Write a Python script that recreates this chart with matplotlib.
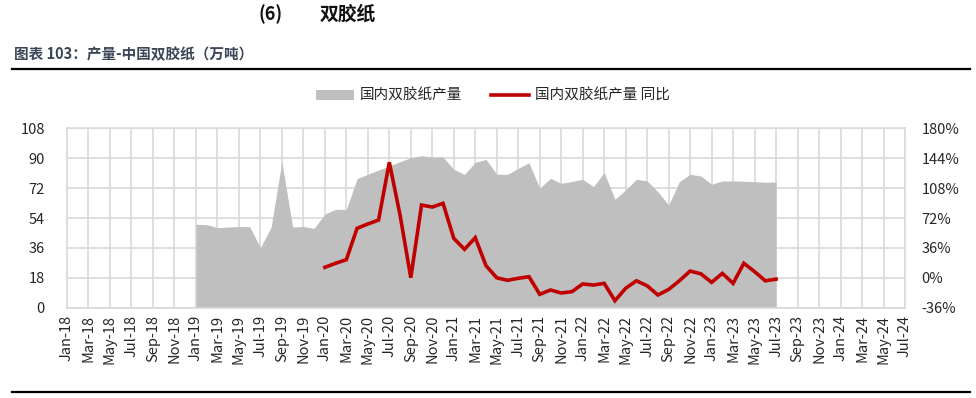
import matplotlib
matplotlib.use("Agg")
import matplotlib.pyplot as plt
from matplotlib.lines import Line2D
from matplotlib.patches import Patch
import pandas as pd

plt.rcParams['font.family'] = ['Noto Sans CJK SC', 'DejaVu Sans']

# month axis Jan-18 .. Jul-24
months = pd.date_range("2018-01-01", "2024-07-01", freq="MS")
tickLabels = [m.strftime("%b-%y") for m in months]

# 国内双胶纸产量 (万吨), Jan-19 .. Jul-23
outputStart = "2019-01-01"
outputValues = [
    50.2, 50.0, 48.2, 48.6, 48.8, 48.8, 36.1, 48.5, 87.9, 48.6, 48.8, 47.8,
    56.4, 59.2, 59.2, 77.7, 80.3, 82.9, 85.3, 87.9, 90.3, 91.5, 90.7, 90.7,
    83.3, 80.3, 87.5, 89.3, 80.3, 80.3, 83.9, 87.3, 71.9, 77.9, 74.9, 76.0,
    77.3, 72.9, 81.3, 65.3, 70.9, 77.3, 76.3, 69.8, 61.8, 75.9, 80.3, 79.3,
    74.3, 76.3, 76.3, 76.1, 75.9, 75.5, 75.7,
]

# 同比 (%), Jan-20 .. Jul-23
yoyStart = "2020-01-01"
yoyValues = [
    12.6, 17.5, 21.8, 59.6, 64.8, 69.5, 139.0, 75.6, 0.1, 87.6, 85.2, 89.7,
    47.5, 34.3, 48.3, 14.6, 0.0, -3.0, -0.6, 1.3, -19.9, -14.7, -18.3, -16.7,
    -7.4, -8.7, -6.7, -27.6, -12.6, -3.6, -9.6, -20.7, -14.0, -3.6, 8.1, 4.8,
    -5.5, 5.3, -6.7, 17.5, 7.4, -3.6, -1.6,
]

leftTicks = [0, 18, 36, 54, 72, 90, 108]
rightTicks = [-36, 0, 36, 72, 108, 144, 180]

AREA = "#BFBFBF"
RED = "#C00000"
GRID = "#D9D9D9"
TXT = "#262626"

startIdx = list(months).index(pd.Timestamp(outputStart))
xOut = list(range(startIdx, startIdx + len(outputValues)))
yoyIdx = list(months).index(pd.Timestamp(yoyStart))
xYoy = list(range(yoyIdx, yoyIdx + len(yoyValues)))

fig = plt.figure(figsize=(9.76, 3.98), dpi=100)
fig.set_facecolor("w")
ax = fig.add_axes([67 / 976, 90.3 / 398, 838 / 976, 179.4 / 398])

ax.fill_between(xOut, 0, outputValues, color=AREA, linewidth=0, zorder=2)
ax.set_xlim(0, len(months) - 1)
ax.set_ylim(0, 108)
ax.set_yticks(leftTicks)
ax.set_xticks(range(0, len(months), 2))
ax.set_xticklabels(tickLabels[::2], rotation=90)
ax.set_axisbelow(True)
ax.grid(True, color=GRID, linewidth=1.2, zorder=0)
ax.tick_params(axis='both', length=0, labelsize=10.5, colors=TXT)
ax.tick_params(axis='y', pad=16)
ax.tick_params(axis='x', pad=5)
for s in ax.spines.values():
    s.set_color(GRID)
    s.set_linewidth(1.2)

ax2 = ax.twinx()
ax2.plot(xYoy, yoyValues, color=RED, linewidth=2.6, solid_joinstyle='miter', zorder=3)
ax2.set_ylim(-36, 180)
ax2.set_yticks(rightTicks)
ax2.set_yticklabels([f"{t}%" for t in rightTicks])
ax2.tick_params(axis='y', length=0, labelsize=10.5, colors=TXT, pad=12)
for s in ax2.spines.values():
    s.set_visible(False)

handles = [Patch(facecolor=AREA, edgecolor='none'),
           Line2D([], [], color=RED, linewidth=2.6)]
fig.legend(handles, ["国内双胶纸产量", "国内双胶纸产量 同比"],
           loc='center', bbox_to_anchor=(0.505, 1 - 96 / 398), ncol=2,
           frameon=False, fontsize=10.5, handlelength=2.6, handleheight=0.7,
           handletextpad=0.4, columnspacing=2.0, labelcolor=TXT)

fig.text(258 / 976, 1 - 14 / 398, "(6)", fontsize=13, fontweight='bold',
         va='center', ha='left', color='#111111')
fig.text(320 / 976, 1 - 14 / 398, "双胶纸", fontsize=13.5, fontweight='bold',
         va='center', ha='left', color='#111111')
fig.text(14 / 976, 1 - 54 / 398, "图表 103：产量-中国双胶纸（万吨）", fontsize=10.5,
         fontweight='bold', va='center', ha='left', color='#3A4556')

fig.add_artist(Line2D([12 / 976, 970 / 976], [1 - 69 / 398] * 2, color='k', linewidth=1.6))
fig.add_artist(Line2D([12 / 976, 970 / 976], [1 - 392 / 398] * 2, color='k', linewidth=1.6))

fig.savefig("out.png", dpi=100, facecolor="w")
